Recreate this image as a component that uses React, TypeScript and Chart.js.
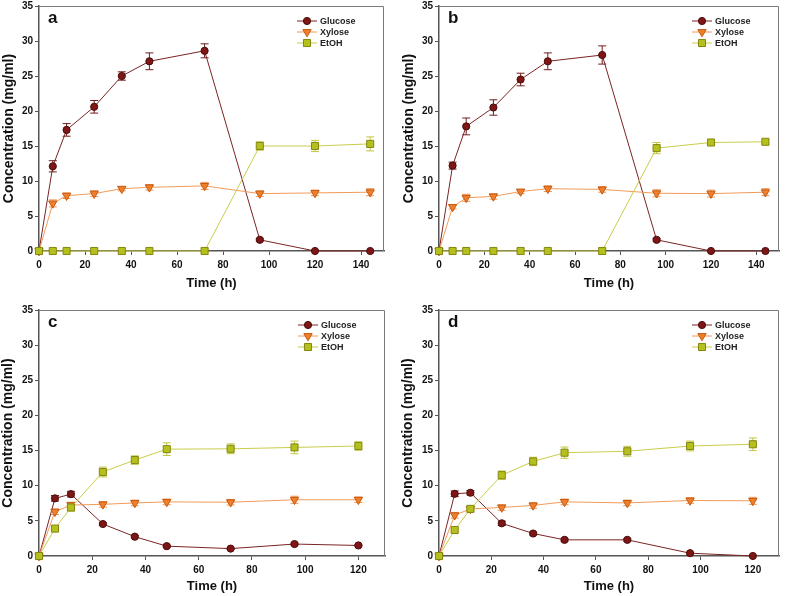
import React, { useEffect, useRef } from 'react';
import { Chart, registerables } from 'chart.js';

Chart.register(...registerables);

// ---- data ----
const timeLong = [0, 6, 12, 24, 36, 48, 72, 96, 120, 144];
const timeShort = [0, 6, 12, 24, 36, 48, 72, 96, 120];
const xTicksLong = [0, 20, 40, 60, 80, 100, 120, 140];
const xTicksShort = [0, 20, 40, 60, 80, 100, 120];
const yTicks = [0, 5, 10, 15, 20, 25, 30, 35];
const seriesNames = ['Glucose', 'Xylose', 'EtOH'];
const panelLetters = ['a', 'b', 'c', 'd'];
const xTitle = 'Time (h)';
const yTitle = 'Concentration (mg/ml)';

// panel a
const glucoseA = [0, 12.1, 17.3, 20.6, 25.0, 27.1, 28.6, 1.6, 0, 0];
const glucoseErrA = [0, 0.8, 0.9, 0.9, 0.6, 1.2, 1.0, 0.2, 0, 0];
const xyloseA = [0, 6.8, 7.9, 8.2, 8.9, 9.1, 9.3, 8.2, 8.3, 8.4];
const xyloseErrA = [0, 0.5, 0.4, 0.4, 0.3, 0.4, 0.5, 0.4, 0.4, 0.5];
const etohA = [0, 0, 0, 0, 0, 0, 0, 15.0, 15.0, 15.3];
const etohErrA = [0, 0, 0, 0, 0, 0, 0, 0.6, 0.8, 1.0];

// panel b
const glucoseB = [0, 12.2, 17.8, 20.5, 24.5, 27.1, 28.0, 1.6, 0, 0];
const glucoseErrB = [0, 0.5, 1.2, 1.1, 0.9, 1.2, 1.3, 0.2, 0, 0];
const xyloseB = [0, 6.3, 7.6, 7.8, 8.5, 8.9, 8.8, 8.25, 8.2, 8.4];
const xyloseErrB = [0, 0.3, 0.5, 0.4, 0.3, 0.4, 0.4, 0.5, 0.5, 0.5];
const etohB = [0, 0, 0, 0, 0, 0, 0, 14.7, 15.5, 15.6];
const etohErrB = [0, 0, 0, 0, 0, 0, 0, 0.8, 0.3, 0.3];

// panel c
const glucoseC = [0, 8.2, 8.8, 4.55, 2.75, 1.4, 1.05, 1.7, 1.5];
const glucoseErrC = [0, 0.4, 0.4, 0.2, 0.15, 0.15, 0.1, 0.15, 0.1];
const xyloseC = [0, 6.3, 7.25, 7.35, 7.55, 7.7, 7.65, 8.0, 8.0];
const xyloseErrC = [0, 0.4, 0.4, 0.4, 0.4, 0.4, 0.4, 0.5, 0.4];
const etohC = [0, 3.9, 6.9, 11.95, 13.65, 15.2, 15.25, 15.45, 15.65];
const etohErrC = [0, 0.3, 0.5, 0.7, 0.6, 0.9, 0.7, 0.9, 0.6];

// panel d
const glucoseD = [0, 8.85, 9.0, 4.65, 3.2, 2.3, 2.3, 0.4, 0];
const glucoseErrD = [0, 0.4, 0.3, 0.3, 0.2, 0.2, 0.2, 0.1, 0];
const xyloseD = [0, 5.8, 6.7, 6.9, 7.2, 7.7, 7.55, 7.9, 7.85];
const xyloseErrD = [0, 0.4, 0.3, 0.4, 0.4, 0.4, 0.4, 0.4, 0.5];
const etohD = [0, 3.7, 6.7, 11.5, 13.45, 14.7, 14.9, 15.65, 15.9];
const etohErrD = [0, 0.3, 0.3, 0.6, 0.6, 0.8, 0.7, 0.7, 0.9];

// ---- styles ----
const lineColors = ['#7a2424', '#f29a58', '#c9cc48'];
const fillColors = ['#7e1616', '#f07f2c', '#b4c01c'];
const edgeColors = ['#4a0c0c', '#c55a12', '#858512'];
const errColors = ['#6e1e1e', '#eb9454', '#c2c640'];
const pointStyles = ['circle', 'triangle', 'rect'];
const pointRadii = [3.6, 4.8, 5];
const pointRotations = [0, 180, 0];
const FONT = '"Liberation Sans", Arial, sans-serif';

type PanelCfg = {
  left: number; top: number; w: number; h: number;
  L: number; padTop: number; padRight: number; H: number;
  xMax: number; xTicks: number[]; time: number[];
  series: number[][]; errs: number[][]; letter: string;
  xTitlePad: number; yTitlePad: number;
};

function drawMarker(ctx: CanvasRenderingContext2D, i: number, x: number, y: number) {
  ctx.save();
  ctx.fillStyle = fillColors[i];
  ctx.strokeStyle = edgeColors[i];
  ctx.lineWidth = 1;
  ctx.beginPath();
  if (i === 0) {
    ctx.arc(x, y, pointRadii[0], 0, Math.PI * 2);
  } else if (i === 1) {
    const r = pointRadii[1];
    ctx.moveTo(x, y + r);
    ctx.lineTo(x + r * Math.sin(Math.PI / 3), y - r / 2);
    ctx.lineTo(x - r * Math.sin(Math.PI / 3), y - r / 2);
    ctx.closePath();
  } else {
    const s = pointRadii[2] * Math.SQRT1_2;
    ctx.rect(x - s, y - s, 2 * s, 2 * s);
  }
  ctx.fill();
  ctx.stroke();
  ctx.restore();
}

function Panel({ cfg }: { cfg: PanelCfg }) {
  const ref = useRef<HTMLCanvasElement | null>(null);
  useEffect(() => {
    if (!ref.current) return;
    const plugin = {
      id: 'panelExtras',
      beforeDatasetsDraw(chart: any) {
        const { ctx, chartArea } = chart;
        const xs = chart.scales.x;
        const ys = chart.scales.y;
        // frame top & right
        ctx.save();
        ctx.strokeStyle = '#7a7a7a';
        ctx.lineWidth = 1;
        ctx.beginPath();
        ctx.moveTo(chartArea.left, chartArea.top + 0.5);
        ctx.lineTo(chartArea.right - 0.5, chartArea.top + 0.5);
        ctx.lineTo(chartArea.right - 0.5, chartArea.bottom);
        ctx.stroke();
        ctx.restore();
        // error bars
        cfg.series.forEach((vals, i) => {
          ctx.save();
          ctx.strokeStyle = errColors[i];
          ctx.lineWidth = 1;
          vals.forEach((v, j) => {
            const e = cfg.errs[i][j];
            if (!e) return;
            const px = xs.getPixelForValue(cfg.time[j]);
            const t = ys.getPixelForValue(v + e);
            const b = ys.getPixelForValue(Math.max(0, v - e));
            ctx.beginPath();
            ctx.moveTo(px, t); ctx.lineTo(px, b);
            ctx.moveTo(px - 4, t); ctx.lineTo(px + 4, t);
            ctx.moveTo(px - 4, b); ctx.lineTo(px + 4, b);
            ctx.stroke();
          });
          ctx.restore();
        });
      },
      afterDraw(chart: any) {
        const { ctx, chartArea } = chart;
        // panel letter
        ctx.save();
        ctx.fillStyle = '#111';
        ctx.font = `bold 17px ${FONT}`;
        ctx.textBaseline = 'alphabetic';
        ctx.textAlign = 'left';
        ctx.fillText(cfg.letter, chartArea.left + 9, chartArea.top + 17);
        ctx.restore();
        // legend
        seriesNames.forEach((name, i) => {
          const y = chartArea.top + 15 + i * 11;
          const x0 = chartArea.right - 87;
          ctx.save();
          ctx.strokeStyle = lineColors[i];
          ctx.lineWidth = 1;
          ctx.beginPath();
          ctx.moveTo(x0, y); ctx.lineTo(x0 + 20, y);
          ctx.stroke();
          ctx.restore();
          drawMarker(ctx, i, x0 + 10, y);
          ctx.save();
          ctx.fillStyle = '#222';
          ctx.font = `bold 9px ${FONT}`;
          ctx.textBaseline = 'middle';
          ctx.textAlign = 'left';
          ctx.fillText(name, x0 + 23, y + 0.5);
          ctx.restore();
        });
      },
    };

    const datasets = cfg.series.map((vals, i) => ({
      label: seriesNames[i],
      data: vals.map((v, j) => ({ x: cfg.time[j], y: v })),
      borderColor: lineColors[i],
      borderWidth: 1,
      pointStyle: pointStyles[i] as any,
      pointRadius: pointRadii[i],
      pointRotation: pointRotations[i],
      pointBackgroundColor: fillColors[i],
      pointBorderColor: edgeColors[i],
      pointBorderWidth: 1,
      clip: false as any,
      tension: 0,
      order: 3 - i,
    }));

    const chart = new Chart(ref.current, {
      type: 'line',
      data: { datasets },
      options: {
        animation: false,
        responsive: false,
        devicePixelRatio: 1,
        layout: { padding: { left: 0, top: cfg.padTop, right: cfg.padRight, bottom: 0 } },
        plugins: { legend: { display: false }, tooltip: { enabled: false } },
        scales: {
          x: {
            type: 'linear',
            min: 0,
            max: cfg.xMax,
            afterBuildTicks: (s: any) => { s.ticks = cfg.xTicks.map((v) => ({ value: v })); },
            afterFit: (s: any) => { s.height = cfg.H; s.paddingLeft = 0; s.paddingRight = 0; },
            ticks: { color: '#111', font: { family: FONT, size: 10, weight: 'bold' }, padding: 4, maxRotation: 0 },
            grid: { drawOnChartArea: false, drawTicks: true, tickLength: 4, color: '#555', lineWidth: 1 },
            border: { display: true, color: '#555', width: 1.5 },
            title: { display: true, text: xTitle, color: '#111', font: { family: FONT, size: 13, weight: 'bold' }, padding: { top: 0, bottom: cfg.xTitlePad } },
          },
          y: {
            type: 'linear',
            min: 0,
            max: 35,
            afterBuildTicks: (s: any) => { s.ticks = yTicks.map((v) => ({ value: v })); },
            afterFit: (s: any) => { s.width = cfg.L; s.paddingTop = 0; s.paddingBottom = 0; },
            ticks: { color: '#111', font: { family: FONT, size: 10, weight: 'bold' }, padding: 2 },
            grid: { drawOnChartArea: false, drawTicks: true, tickLength: 4, color: '#555', lineWidth: 1 },
            border: { display: true, color: '#555', width: 1.5 },
            title: { display: true, text: yTitle, color: '#111', font: { family: FONT, size: 14, weight: 'bold' }, padding: { top: cfg.yTitlePad, bottom: 0 } },
          },
        },
      } as any,
      plugins: [plugin],
    });
    return () => chart.destroy();
  }, [cfg]);

  return (
    <div style={{ position: 'absolute', left: cfg.left, top: cfg.top, width: cfg.w, height: cfg.h }}>
      <canvas ref={ref} width={cfg.w} height={cfg.h} style={{ width: cfg.w, height: cfg.h, display: 'block' }} />
    </div>
  );
}

const panels: PanelCfg[] = [
  {
    left: 0, top: 0, w: 392, h: 298, L: 39, padTop: 5, padRight: 8, H: 47,
    xMax: 150, xTicks: xTicksLong, time: timeLong,
    series: [glucoseA, xyloseA, etohA], errs: [glucoseErrA, xyloseErrA, etohErrA],
    letter: panelLetters[0], xTitlePad: 7, yTitlePad: 1,
  },
  {
    left: 392, top: 0, w: 393, h: 298, L: 47, padTop: 5, padRight: 2, H: 47,
    xMax: 150, xTicks: xTicksLong, time: timeLong,
    series: [glucoseB, xyloseB, etohB], errs: [glucoseErrB, xyloseErrB, etohErrB],
    letter: panelLetters[1], xTitlePad: 7, yTitlePad: 9,
  },
  {
    left: 0, top: 298, w: 392, h: 298, L: 39, padTop: 12, padRight: 7, H: 40,
    xMax: 130, xTicks: xTicksShort, time: timeShort,
    series: [glucoseC, xyloseC, etohC], errs: [glucoseErrC, xyloseErrC, etohErrC],
    letter: panelLetters[2], xTitlePad: 1.5, yTitlePad: 0,
  },
  {
    left: 392, top: 298, w: 393, h: 298, L: 47, padTop: 12, padRight: 2, H: 40,
    xMax: 130, xTicks: xTicksShort, time: timeShort,
    series: [glucoseD, xyloseD, etohD], errs: [glucoseErrD, xyloseErrD, etohErrD],
    letter: panelLetters[3], xTitlePad: 1.5, yTitlePad: 7.6,
  },
];

export default function App() {
  return (
    <div style={{ position: 'absolute', left: 0, top: 0, width: 785, height: 596, background: '#fff', overflow: 'hidden' }}>
      {panels.map((p, i) => (
        <Panel key={i} cfg={p} />
      ))}
    </div>
  );
}
